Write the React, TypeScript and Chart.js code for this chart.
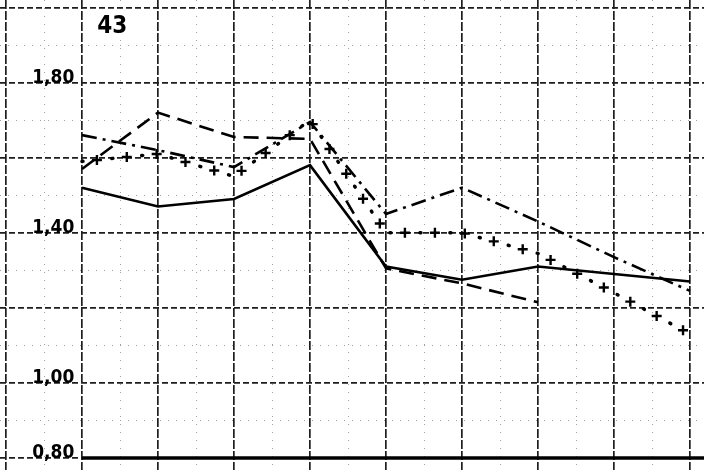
import React, { useEffect, useRef } from "react";
import { Chart, registerables } from "chart.js";
Chart.register(...registerables);

// ---- data ----
const xPositions = [0, 1, 2, 3, 4, 5, 6, 7, 8];
const solidSeries = [1.52, 1.47, 1.49, 1.58, 1.31, 1.275, 1.31, 1.29, 1.27];
const longDashSeries = [1.57, 1.72, 1.655, 1.65, 1.305, 1.265, 1.215, null, null];
const dashDotSeries = [1.66, 1.62, 1.575, 1.695, 1.45, 1.52, 1.43, 1.335, 1.245];
const crossSeries = [1.59, 1.61, 1.55, 1.7, 1.4, 1.4, 1.345, 1.24, 1.13];
const yTickLabels = [0.8, 1.0, 1.4, 1.8];
const yMajorGrid = [0.8, 1.0, 1.2, 1.4, 1.6, 1.8, 2.0];
const yMinorGrid = [0.9, 1.1, 1.3, 1.5, 1.7, 1.9];
const xMajorGrid = [-1, 0, 1, 2, 3, 4, 5, 6, 7, 8];
const xMinorGrid = [-0.5, 0.5, 1.5, 2.5, 3.5, 4.5, 5.5, 6.5, 7.5];
const panelLabel = "43";

const X_MIN = -1.079;
const X_MAX = 8.184;
const Y_MIN = 0.768;
const Y_MAX = 2.02;

const toPoints = (arr: (number | null)[]) =>
  xPositions.map((x, i) => ({ x, y: arr[i] as any }));

const fmt = (v: number) => v.toFixed(2).replace(".", ",");

const LABEL_FONT = "'Liberation Sans Narrow', 'DejaVu Sans Condensed', sans-serif";

const overlay = {
  id: "overlay",
  beforeDatasetsDraw(chart: any) {
    const { ctx, scales } = chart;
    const x = scales.x;
    const y = scales.y;
    ctx.save();
    ctx.strokeStyle = "#000";
    ctx.lineWidth = 3.5;
    ctx.beginPath();
    ctx.moveTo(x.getPixelForValue(0), y.getPixelForValue(0.8));
    ctx.lineTo(chart.chartArea.right, y.getPixelForValue(0.8));
    ctx.stroke();
    ctx.restore();
  },
  afterDatasetsDraw(chart: any) {
    const { ctx, scales } = chart;
    const meta = chart.getDatasetMeta(3);
    const pts = meta.data.filter((p: any) => !p.skip);
    ctx.save();
    ctx.strokeStyle = "#000";
    ctx.lineWidth = 2.4;
    const spacing = 30;
    let next = 15;
    let acc = 0;
    for (let i = 0; i < pts.length - 1; i++) {
      const a = pts[i];
      const b = pts[i + 1];
      const dx = b.x - a.x;
      const dy = b.y - a.y;
      const len = Math.hypot(dx, dy);
      while (next <= acc + len) {
        const t = (next - acc) / len;
        const cx = a.x + dx * t;
        const cy = a.y + dy * t;
        const s = 5;
        ctx.beginPath();
        ctx.moveTo(cx - s, cy);
        ctx.lineTo(cx + s, cy);
        ctx.moveTo(cx, cy - s);
        ctx.lineTo(cx, cy + s);
        ctx.stroke();
        next += spacing;
      }
      acc += len;
    }
    // panel number
    ctx.fillStyle = "#000";
    ctx.font = "bold 24px " + LABEL_FONT;
    ctx.textAlign = "left";
    ctx.textBaseline = "middle";
    ctx.fillText(panelLabel, scales.x.getPixelForValue(0.2), scales.y.getPixelForValue(1.95));
    ctx.restore();
  },
};

export default function App() {
  const ref = useRef<HTMLCanvasElement | null>(null);
  useEffect(() => {
    document.body.style.margin = "0";
    const canvas = ref.current!;
    const lineBase = {
      borderColor: "#000",
      pointRadius: 0,
      tension: 0,
      fill: false,
      spanGaps: false,
    };
    const noPad = (s: any) => {
      s.paddingTop = 0;
      s.paddingBottom = 0;
      s.paddingLeft = 0;
      s.paddingRight = 0;
    };
    const setTicks = (vals: number[]) => (s: any) => {
      s.ticks = vals.map((v) => ({ value: v }));
    };
    const gridScale = (axis: "x" | "y", vals: number[], color: string, width: number, dash: number[]) => ({
      type: "linear",
      axis,
      position: axis === "x" ? "bottom" : "left",
      min: axis === "x" ? X_MIN : Y_MIN,
      max: axis === "x" ? X_MAX : Y_MAX,
      afterBuildTicks: setTicks(vals),
      afterFit: noPad,
      ticks: { display: false },
      grid: { drawTicks: false, lineWidth: width, color },
      border: { display: false, dash },
    });
    const chart = new Chart(canvas, {
      type: "line",
      data: {
        datasets: [
          { ...lineBase, label: "solid", data: toPoints(solidSeries), borderWidth: 2.6 },
          { ...lineBase, label: "dash", data: toPoints(longDashSeries), borderWidth: 2.6, borderDash: [15, 8] },
          { ...lineBase, label: "dashdot", data: toPoints(dashDotSeries), borderWidth: 2.6, borderDash: [15, 6, 3, 6] },
          {
            ...lineBase,
            label: "cross",
            data: toPoints(crossSeries),
            borderWidth: 3.5,
            borderDash: [1, 29],
            borderCapStyle: "round",
          },
        ],
      },
      options: {
        animation: false,
        responsive: false,
        maintainAspectRatio: false,
        layout: { padding: 0 },
        plugins: { legend: { display: false }, tooltip: { enabled: false }, title: { display: false } },
        scales: {
          x2: gridScale("x", xMinorGrid, "#a0a0a0", 1, [1, 7]),
          y2: gridScale("y", yMinorGrid, "#a0a0a0", 1, [1, 7]),
          x: gridScale("x", xMajorGrid, "#1e1e1e", 1.7, [9, 2]),
          y: gridScale("y", yMajorGrid, "#1e1e1e", 1.7, [6, 3]),
          yl: {
            type: "linear",
            axis: "y",
            position: { x: -0.1 } as any,
            min: Y_MIN,
            max: Y_MAX,
            afterBuildTicks: setTicks(yTickLabels),
            afterFit: noPad,
            ticks: {
              callback: (v: any) => fmt(Number(v)),
              color: "#000",
              padding: 0,
              labelOffset: -5,
              font: { family: LABEL_FONT, size: 19, weight: "bold" },
            },
            grid: { display: false, drawTicks: false },
            border: { display: false },
          },
        },
      },
      plugins: [overlay],
    } as any);
    return () => chart.destroy();
  }, []);
  return (
    <div style={{ width: 704, height: 470, background: "#fff" }}>
      <canvas ref={ref} width={704} height={470} style={{ display: "block" }} />
    </div>
  );
}
